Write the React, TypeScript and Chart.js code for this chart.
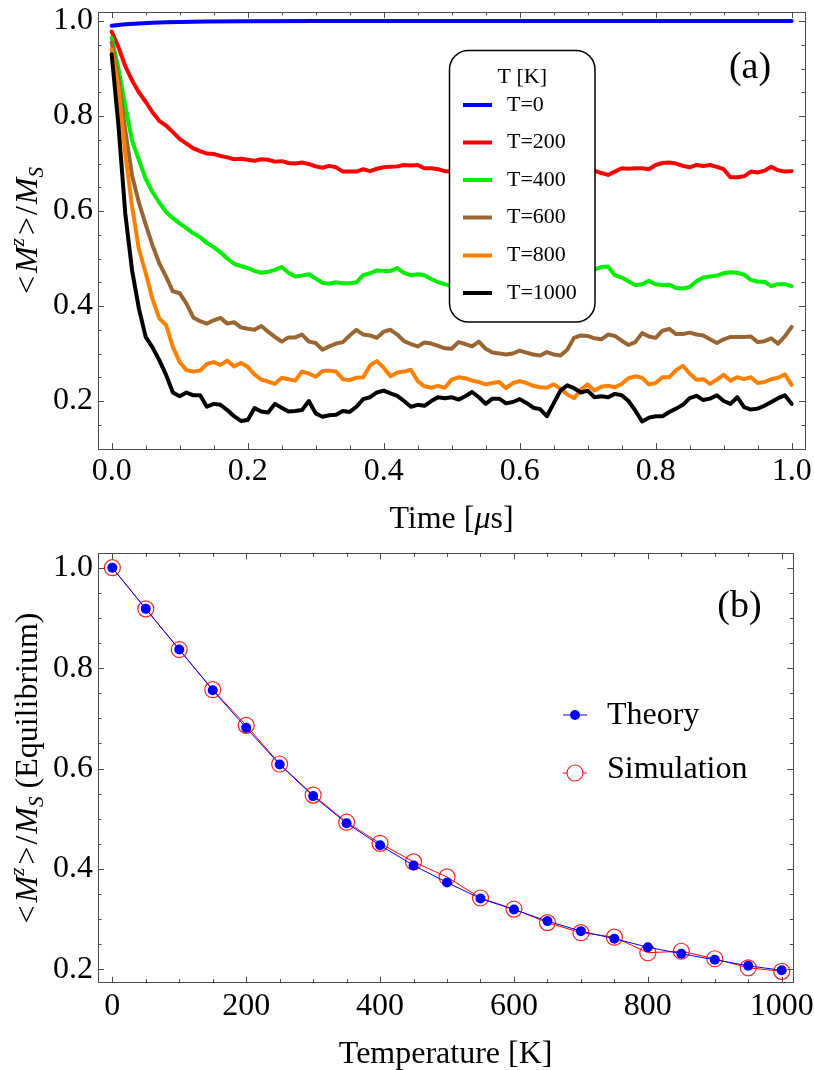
import { useEffect, useRef } from "react";
import { Chart, registerables } from "chart.js";

Chart.register(...registerables);

const SERIF = "'Liberation Serif', 'Times New Roman', 'DejaVu Serif', serif";

// ---------- Panel (a): magnetisation relaxation vs time ----------
const timeUs = [
  0.00, 0.01, 0.02, 0.03, 0.04, 0.05, 0.06, 0.07, 0.08, 0.09,
  0.10, 0.11, 0.12, 0.13, 0.14, 0.15, 0.16, 0.17, 0.18, 0.19,
  0.20, 0.21, 0.22, 0.23, 0.24, 0.25, 0.26, 0.27, 0.28, 0.29,
  0.30, 0.31, 0.32, 0.33, 0.34, 0.35, 0.36, 0.37, 0.38, 0.39,
  0.40, 0.41, 0.42, 0.43, 0.44, 0.45, 0.46, 0.47, 0.48, 0.49,
  0.50, 0.51, 0.52, 0.53, 0.54, 0.55, 0.56, 0.57, 0.58, 0.59,
  0.60, 0.61, 0.62, 0.63, 0.64, 0.65, 0.66, 0.67, 0.68, 0.69,
  0.70, 0.71, 0.72, 0.73, 0.74, 0.75, 0.76, 0.77, 0.78, 0.79,
  0.80, 0.81, 0.82, 0.83, 0.84, 0.85, 0.86, 0.87, 0.88, 0.89,
  0.90, 0.91, 0.92, 0.93, 0.94, 0.95, 0.96, 0.97, 0.98, 0.99,
  1.00,
];

const timeT0 = [0, 0.01, 0.02, 0.04, 0.06, 0.08, 0.10, 0.14, 0.20, 0.30, 0.40, 0.60, 0.80, 1.00];
const magT0 = [0.990, 0.9915, 0.993, 0.995, 0.9965, 0.9975, 0.998, 0.9988, 0.9994, 0.9998, 1.0, 1.0, 1.0, 1.0];

const magT200 = [
  0.978, 0.945, 0.905, 0.875, 0.850, 0.830, 0.808, 0.790, 0.780, 0.766,
  0.752, 0.742, 0.732, 0.726, 0.721, 0.720, 0.716, 0.713, 0.709, 0.710,
  0.708, 0.706, 0.709, 0.708, 0.704, 0.705, 0.701, 0.700, 0.702, 0.699,
  0.694, 0.691, 0.695, 0.692, 0.683, 0.683, 0.683, 0.688, 0.684, 0.689,
  0.692, 0.693, 0.694, 0.697, 0.696, 0.697, 0.690, 0.690, 0.688, 0.684,
  0.684, 0.686, 0.690, 0.688, 0.685, 0.687, 0.690, 0.692, 0.689, 0.686,
  0.688, 0.691, 0.689, 0.687, 0.685, 0.688, 0.690, 0.687, 0.684, 0.686,
  0.690, 0.685, 0.680, 0.676, 0.683, 0.690, 0.689, 0.690, 0.690, 0.688,
  0.697, 0.701, 0.702, 0.700, 0.695, 0.692, 0.697, 0.695, 0.697, 0.693,
  0.688, 0.671, 0.671, 0.673, 0.683, 0.681, 0.685, 0.693, 0.686, 0.683,
  0.684,
];

const magT400 = [
  0.965, 0.900, 0.822, 0.748, 0.708, 0.668, 0.640, 0.618, 0.598, 0.585,
  0.574, 0.564, 0.553, 0.545, 0.533, 0.524, 0.513, 0.500, 0.489, 0.484,
  0.480, 0.474, 0.470, 0.472, 0.476, 0.482, 0.470, 0.462, 0.464, 0.467,
  0.458, 0.449, 0.447, 0.450, 0.448, 0.448, 0.450, 0.465, 0.469, 0.475,
  0.474, 0.474, 0.480, 0.470, 0.465, 0.467, 0.465, 0.457, 0.450, 0.446,
  0.442, 0.445, 0.450, 0.447, 0.452, 0.456, 0.451, 0.448, 0.455, 0.460,
  0.457, 0.462, 0.466, 0.463, 0.468, 0.471, 0.467, 0.470, 0.474, 0.472,
  0.476, 0.477, 0.482, 0.483, 0.465, 0.460, 0.452, 0.444, 0.446, 0.453,
  0.446, 0.444, 0.445, 0.438, 0.437, 0.440, 0.452, 0.460, 0.462, 0.464,
  0.469, 0.471, 0.470, 0.466, 0.455, 0.451, 0.451, 0.442, 0.446, 0.446,
  0.442,
];

const magT600 = [
  0.955, 0.880, 0.770, 0.675, 0.618, 0.572, 0.528, 0.490, 0.462, 0.431,
  0.427, 0.405, 0.376, 0.368, 0.363, 0.370, 0.375, 0.363, 0.366, 0.355,
  0.352, 0.350, 0.358, 0.346, 0.335, 0.325, 0.334, 0.334, 0.340, 0.325,
  0.322, 0.308, 0.315, 0.321, 0.324, 0.338, 0.350, 0.340, 0.338, 0.333,
  0.346, 0.350, 0.340, 0.326, 0.320, 0.315, 0.323, 0.321, 0.316, 0.311,
  0.310, 0.324, 0.320, 0.315, 0.325, 0.310, 0.302, 0.300, 0.298, 0.300,
  0.306, 0.302, 0.298, 0.296, 0.303, 0.298, 0.296, 0.308, 0.333, 0.338,
  0.337, 0.332, 0.330, 0.340, 0.337, 0.327, 0.318, 0.324, 0.343, 0.336,
  0.333, 0.348, 0.352, 0.341, 0.341, 0.344, 0.340, 0.338, 0.330, 0.322,
  0.330, 0.335, 0.335, 0.335, 0.336, 0.324, 0.326, 0.332, 0.321, 0.336,
  0.356,
];

const magT800 = [
  0.940, 0.860, 0.720, 0.610, 0.520, 0.470, 0.415, 0.374, 0.360, 0.314,
  0.282, 0.265, 0.262, 0.264, 0.278, 0.282, 0.276, 0.285, 0.273, 0.280,
  0.272, 0.256, 0.245, 0.241, 0.236, 0.249, 0.246, 0.243, 0.262, 0.258,
  0.251, 0.263, 0.264, 0.262, 0.246, 0.244, 0.249, 0.250, 0.275, 0.284,
  0.270, 0.252, 0.260, 0.262, 0.266, 0.242, 0.231, 0.228, 0.232, 0.228,
  0.245, 0.250, 0.248, 0.243, 0.240, 0.235, 0.238, 0.240, 0.227, 0.238,
  0.242, 0.238, 0.232, 0.229, 0.228, 0.235, 0.226, 0.214, 0.206, 0.224,
  0.235, 0.222, 0.230, 0.232, 0.229, 0.236, 0.248, 0.252, 0.249, 0.235,
  0.238, 0.250, 0.250, 0.265, 0.274, 0.258, 0.245, 0.246, 0.236, 0.245,
  0.255, 0.243, 0.250, 0.246, 0.250, 0.238, 0.240, 0.246, 0.249, 0.256,
  0.234,
];

const magT1000 = [
  0.930, 0.780, 0.595, 0.475, 0.395, 0.335, 0.313, 0.286, 0.255, 0.218,
  0.210, 0.218, 0.212, 0.212, 0.188, 0.194, 0.192, 0.181, 0.168, 0.158,
  0.160, 0.185, 0.178, 0.176, 0.194, 0.186, 0.178, 0.179, 0.181, 0.200,
  0.174, 0.167, 0.170, 0.171, 0.179, 0.177, 0.188, 0.204, 0.208, 0.218,
  0.222, 0.216, 0.211, 0.200, 0.188, 0.192, 0.190, 0.200, 0.208, 0.206,
  0.208, 0.203, 0.210, 0.219, 0.208, 0.194, 0.205, 0.205, 0.195, 0.198,
  0.204, 0.196, 0.186, 0.183, 0.168, 0.195, 0.222, 0.233, 0.227, 0.218,
  0.222, 0.208, 0.210, 0.208, 0.215, 0.212, 0.200, 0.180, 0.157, 0.165,
  0.168, 0.168, 0.177, 0.184, 0.192, 0.206, 0.211, 0.202, 0.205, 0.212,
  0.200, 0.194, 0.208, 0.187, 0.182, 0.184, 0.190, 0.198, 0.206, 0.212,
  0.194,
];

const tempLabels = ["T=0", "T=200", "T=400", "T=600", "T=800", "T=1000"];
const tempColors = ["#0000ff", "#ff0000", "#00ee00", "#996633", "#ff8000", "#000000"];

const timeTicks = [0, 0.2, 0.4, 0.6, 0.8, 1.0];
const magTicksA = [0.2, 0.4, 0.6, 0.8, 1.0];

// ---------- Panel (b): equilibrium magnetisation vs temperature ----------
const temperatureK = [0, 50, 100, 150, 200, 250, 300, 350, 400, 450, 500, 550, 600, 650, 700, 750, 800, 850, 900, 950, 1000];
const theoryEq = [1.000, 0.918, 0.837, 0.756, 0.681, 0.608, 0.545, 0.491, 0.447, 0.407, 0.373, 0.341, 0.319, 0.296, 0.276, 0.261, 0.244, 0.231, 0.219, 0.207, 0.198];
const simulationEq = [1.000, 0.918, 0.837, 0.757, 0.686, 0.609, 0.547, 0.493, 0.451, 0.414, 0.384, 0.342, 0.320, 0.293, 0.273, 0.264, 0.233, 0.236, 0.221, 0.203, 0.196];

const tempTicks = [0, 200, 400, 600, 800, 1000];
const magTicksB = [0.2, 0.4, 0.6, 0.8, 1.0];

// ---------- drawing helpers ----------
type Seg = { text: string; size: number; italic?: boolean; rise?: number; gap?: number };

function segFont(s: Seg) {
  return `${s.italic ? "italic " : ""}${s.size}px ${SERIF}`;
}

// Draws a run of mixed-style text centred on (cx, cy); baseline passes through the anchor.
function drawRichText(ctx: CanvasRenderingContext2D, segs: Seg[], cx: number, cy: number, vertical: boolean) {
  ctx.save();
  const widths = segs.map((s) => {
    ctx.font = segFont(s);
    return ctx.measureText(s.text).width + (s.gap || 0);
  });
  const total = widths.reduce((a, b) => a + b, 0);
  ctx.translate(cx, cy);
  if (vertical) ctx.rotate(-Math.PI / 2);
  ctx.fillStyle = "#000";
  ctx.textAlign = "left";
  ctx.textBaseline = "alphabetic";
  let x = -total / 2;
  segs.forEach((s, i) => {
    ctx.font = segFont(s);
    ctx.fillText(s.text, x, -(s.rise || 0));
    x += widths[i];
  });
  ctx.restore();
}

const yTitleCore: Seg[] = [
  { text: "<", size: 32, gap: 3 },
  { text: "M", size: 32, italic: true },
  { text: "z", size: 21, italic: true, rise: 13, gap: 3 },
  { text: ">", size: 32, gap: 2 },
  { text: "/", size: 32, gap: 2 },
  { text: "M", size: 32, italic: true },
  { text: "S", size: 21, italic: true, rise: -6 },
];

// Frame with inward major/minor ticks on all four sides.
const frameTicks = {
  id: "frameTicks",
  afterDatasetsDraw(chart: any, _args: any, opts: any) {
    const { ctx, chartArea: a, scales } = chart;
    ctx.save();
    ctx.strokeStyle = "#4a4a4a";
    ctx.lineWidth = 1;
    ctx.strokeRect(Math.round(a.left) + 0.5, Math.round(a.top) + 0.5, Math.round(a.right - a.left), Math.round(a.bottom - a.top));
    const walk = (scale: any, step: number, majors: number[], cb: (p: number, major: boolean) => void) => {
      const start = Math.ceil(scale.min / step - 1e-6);
      for (let i = start; i * step <= scale.max + 1e-6; i++) {
        const v = i * step;
        const major = majors.some((m) => Math.abs(m - v) < step * 1e-3);
        cb(scale.getPixelForValue(v), major);
      }
    };
    ctx.beginPath();
    walk(scales.x, opts.xMinor, opts.xMajor, (p, major) => {
      if (p < a.left + 2 || p > a.right - 2) return;
      const len = major ? 6 : 3.5;
      const x = Math.round(p) + 0.5;
      ctx.moveTo(x, a.bottom);
      ctx.lineTo(x, a.bottom - len);
      ctx.moveTo(x, a.top);
      ctx.lineTo(x, a.top + len);
    });
    walk(scales.y, opts.yMinor, opts.yMajor, (p, major) => {
      if (p < a.top + 2 || p > a.bottom - 2) return;
      const len = major ? 6 : 3.5;
      const y = Math.round(p) + 0.5;
      ctx.moveTo(a.left, y);
      ctx.lineTo(a.left + len, y);
      ctx.moveTo(a.right, y);
      ctx.lineTo(a.right - len, y);
    });
    ctx.stroke();
    ctx.restore();
  },
};

// Axis titles, panel tag and the in-plot legend.
const panelDecor = {
  id: "panelDecor",
  afterDraw(chart: any, _args: any, opts: any) {
    const { ctx, chartArea: a } = chart;
    const cxArea = (a.left + a.right) / 2;
    const cyArea = (a.top + a.bottom) / 2;
    drawRichText(ctx, opts.yTitle, 37, cyArea, true);
    drawRichText(ctx, opts.xTitle, cxArea, opts.xTitleBaseline, false);
    drawRichText(ctx, [{ text: opts.tag, size: 38 }], opts.tagX, opts.tagBaseline, false);

    const datasets = chart.data.datasets;
    ctx.save();
    if (opts.legend === "box") {
      const b = opts.box;
      ctx.beginPath();
      ctx.roundRect(b.x, b.y, b.w, b.h, b.r);
      ctx.fillStyle = "#ffffff";
      ctx.fill();
      ctx.lineWidth = 1.5;
      ctx.strokeStyle = "#000";
      ctx.stroke();
      ctx.fillStyle = "#000";
      ctx.font = `22px ${SERIF}`;
      ctx.textAlign = "center";
      ctx.textBaseline = "middle";
      ctx.fillText(opts.legendTitle, b.x + b.w / 2, opts.titleY);
      ctx.textAlign = "left";
      datasets.forEach((ds: any, i: number) => {
        const y = opts.rows[i];
        ctx.strokeStyle = ds.borderColor;
        ctx.lineWidth = 4;
        ctx.beginPath();
        ctx.moveTo(opts.markX0, y);
        ctx.lineTo(opts.markX1, y);
        ctx.stroke();
        ctx.fillStyle = "#000";
        ctx.fillText(ds.label, opts.textX, y);
      });
    } else {
      datasets.forEach((ds: any, i: number) => {
        const y = opts.rows[i];
        const mid = (opts.markX0 + opts.markX1) / 2;
        ctx.strokeStyle = ds.borderColor;
        ctx.lineWidth = 1;
        ctx.beginPath();
        ctx.moveTo(opts.markX0, y);
        ctx.lineTo(opts.markX1, y);
        ctx.stroke();
        ctx.beginPath();
        ctx.arc(mid, y, ds.pointRadius, 0, Math.PI * 2);
        if (ds.pointBackgroundColor !== "rgba(0,0,0,0)") {
          ctx.fillStyle = ds.pointBackgroundColor;
          ctx.fill();
        } else {
          ctx.fillStyle = "#ffffff";
          ctx.fill();
          ctx.strokeStyle = ds.pointBorderColor;
          ctx.lineWidth = ds.pointBorderWidth;
          ctx.stroke();
        }
        ctx.fillStyle = "#000";
        ctx.font = `32px ${SERIF}`;
        ctx.textAlign = "left";
        ctx.textBaseline = "alphabetic";
        ctx.fillText(ds.label, opts.textX, opts.textBaselines[i]);
      });
    }
    ctx.restore();
  },
};

function axisOptions(
  min: number,
  max: number,
  ticks: number[],
  digits: number,
  padding: number,
  fit: (s: any) => void
) {
  return {
    type: "linear" as const,
    min,
    max,
    grid: { display: false, drawTicks: false },
    border: { display: false },
    ticks: {
      color: "#000",
      font: { family: SERIF, size: 32 },
      padding,
      maxRotation: 0,
      autoSkip: false,
      callback: (v: any) => Number(v).toFixed(digits),
    },
    afterBuildTicks: (s: any) => {
      s.ticks = ticks.map((value) => ({ value }));
    },
    afterFit: fit,
  };
}

function PanelA() {
  const ref = useRef<HTMLCanvasElement | null>(null);
  useEffect(() => {
    if (!ref.current) return;
    const series = [magT200, magT400, magT600, magT800, magT1000];
    const datasets = [
      {
        label: tempLabels[0],
        data: timeT0.map((t, i) => ({ x: t, y: magT0[i] })),
      },
      ...series.map((vals, k) => ({
        label: tempLabels[k + 1],
        data: timeUs.map((t, i) => ({ x: t, y: vals[i] })),
      })),
    ].map((ds, i) => ({
      ...ds,
      borderColor: tempColors[i],
      backgroundColor: tempColors[i],
      borderWidth: 4,
      pointRadius: 0,
      fill: false,
      tension: 0,
      borderJoinStyle: "round" as const,
      borderCapStyle: "round" as const,
      order: 5 - i,
    }));
    const chart = new Chart(ref.current, {
      type: "line",
      data: { datasets },
      plugins: [frameTicks, panelDecor],
      options: {
        responsive: false,
        animation: false,
        devicePixelRatio: 1,
        layout: { padding: { top: 12, right: 9, left: 0, bottom: 0 } },
        plugins: {
          legend: { display: false },
          tooltip: { enabled: false },
          frameTicks: { xMinor: 0.05, yMinor: 0.05, xMajor: timeTicks, yMajor: magTicksA },
          panelDecor: {
            yTitle: yTitleCore,
            xTitle: [
              { text: "Time [", size: 32 },
              { text: "μ", size: 32, italic: true },
              { text: "s]", size: 32 },
            ],
            xTitleBaseline: 527.5,
            tag: "(a)",
            tagX: 750,
            tagBaseline: 78,
            legend: "box",
            legendTitle: "T [K]",
            box: { x: 449.5, y: 50.5, w: 145.5, h: 271.5, r: 19 },
            titleY: 77,
            rows: [105, 142.5, 180, 217.5, 255.5, 293],
            markX0: 463,
            markX1: 492,
            textX: 507,
          },
        } as any,
        scales: {
          x: axisOptions(-0.0201, 1.0196, timeTicks, 1, 3.5, (s: any) => {
            s.height = 91;
            s.paddingLeft = 0;
            s.paddingRight = 0;
          }),
          y: axisOptions(0.099, 1.019, magTicksA, 1, 5, (s: any) => {
            s.width = 98;
            s.paddingTop = 0;
            s.paddingBottom = 0;
          }),
        },
      },
    });
    return () => chart.destroy();
  }, []);
  return <canvas ref={ref} width={814} height={540} style={{ display: "block" }} />;
}

function PanelB() {
  const ref = useRef<HTMLCanvasElement | null>(null);
  useEffect(() => {
    if (!ref.current) return;
    const chart = new Chart(ref.current, {
      type: "line",
      data: {
        datasets: [
          {
            label: "Theory",
            data: temperatureK.map((t, i) => ({ x: t, y: theoryEq[i] })),
            borderColor: "#0000ff",
            backgroundColor: "#0000ff",
            borderWidth: 1,
            pointRadius: 5,
            pointBackgroundColor: "#0000ff",
            pointBorderColor: "#0000ff",
            pointBorderWidth: 0,
            tension: 0,
            order: 0,
          },
          {
            label: "Simulation",
            data: temperatureK.map((t, i) => ({ x: t, y: simulationEq[i] })),
            borderColor: "#ff0000",
            backgroundColor: "#ff0000",
            borderWidth: 1,
            pointRadius: 8,
            pointBackgroundColor: "rgba(0,0,0,0)",
            pointBorderColor: "#ff2020",
            pointBorderWidth: 1.2,
            tension: 0,
            order: 1,
          },
        ],
      },
      plugins: [frameTicks, panelDecor],
      options: {
        responsive: false,
        animation: false,
        devicePixelRatio: 1,
        layout: { padding: { top: 13.3, right: 20.7, left: 0, bottom: 0 } },
        plugins: {
          legend: { display: false },
          tooltip: { enabled: false },
          frameTicks: { xMinor: 50, yMinor: 0.05, xMajor: tempTicks, yMajor: magTicksB },
          panelDecor: {
            yTitle: [...yTitleCore, { text: " (Equilibrium)", size: 32 }],
            xTitle: [{ text: "Temperature [K]", size: 32 }],
            xTitleBaseline: 523,
            tag: "(b)",
            tagX: 739.5,
            tagBaseline: 77,
            legend: "plain",
            rows: [175, 233],
            textBaselines: [183.5, 238],
            markX0: 563,
            markX1: 587,
            textX: 607,
          },
        } as any,
        scales: {
          x: axisOptions(-21.4, 1017.3, tempTicks, 0, 5, (s: any) => {
            s.height = 87.3;
            s.paddingLeft = 0;
            s.paddingRight = 0;
          }),
          y: axisOptions(0.1733, 1.0287, magTicksB, 1, 5, (s: any) => {
            s.width = 98;
            s.paddingTop = 0;
            s.paddingBottom = 0;
          }),
        },
      },
    });
    return () => chart.destroy();
  }, []);
  return <canvas ref={ref} width={814} height={530} style={{ display: "block" }} />;
}

export default function App() {
  return (
    <div style={{ position: "absolute", left: 0, top: 0, width: 814, height: 1070, background: "#fff" }}>
      <PanelA />
      <PanelB />
    </div>
  );
}
